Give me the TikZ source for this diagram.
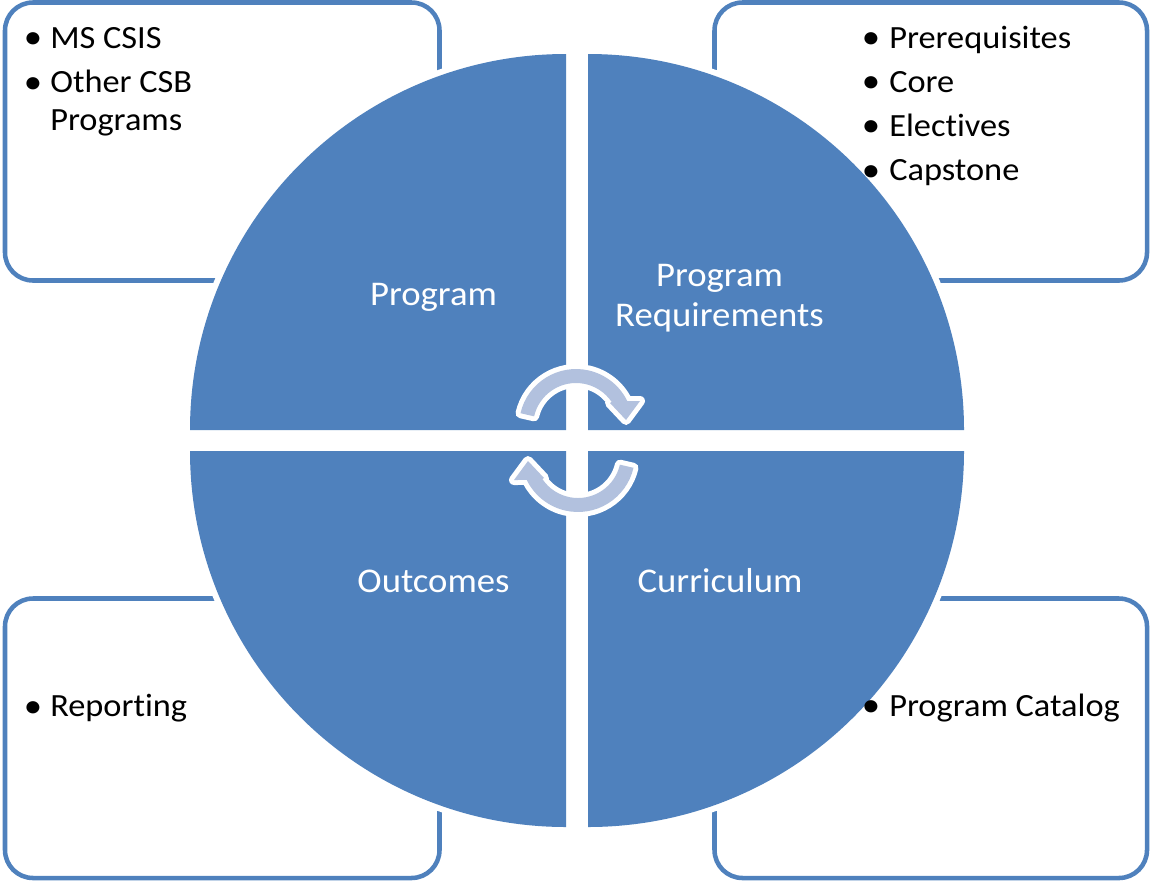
\documentclass[tikz,border=0pt]{standalone}
\usepackage{fontspec}
\setmainfont{Carlito}[FakeStretch=1.06, Ligatures=NoCommon]
\definecolor{qblue}{RGB}{79,129,189}
\definecolor{arrowfill}{RGB}{178,193,222}
\begin{document}
\begin{tikzpicture}[x=0.75pt,y=-0.75pt,
  box/.style={draw=qblue, line width=3.4pt, rounded corners=21pt},
  quad/.style={fill=qblue, preaction={draw=white, line width=9pt}},
  cyc/.style={fill=arrowfill, preaction={draw=white, line width=7.5pt, line join=round}},
  itemtxt/.style={anchor=base west, inner sep=0pt, font=\fontsize{24.3}{28}\selectfont, text=black},
  bul/.style={anchor=base, inner sep=0pt, font=\fontsize{26}{28}\selectfont, text=black},
  lbl/.style={anchor=base, inner sep=0pt, font=\fontsize{26}{30}\selectfont, text=white}]
\useasboundingbox (0,0) rectangle (1151,882);
% boxes
\draw[box] (5,2.5) rectangle (439.5,280.5);
\draw[box] (714.5,2.5) rectangle (1147,280.5);
\draw[box] (5,598.5) rectangle (439.5,878);
\draw[box] (714.5,598.5) rectangle (1147,878);
% quadrants
\path[quad] (566,430) -- (190,430) arc[start angle=180, end angle=270, radius=376] -- cycle;
\path[quad] (588,430) -- (588,54) arc[start angle=270, end angle=360, radius=376] -- cycle;
\path[quad] (588,451) -- (964,451) arc[start angle=0, end angle=90, radius=376] -- cycle;
\path[quad] (566,451) -- (566,827) arc[start angle=90, end angle=180, radius=376] -- cycle;
% box texts
\node[bul] (b1) at (33,48.5) {\textbullet};
\node[itemtxt] (t1) at (50,48) {MS CSIS};
\node[bul] (b2) at (33,93) {\textbullet};
\node[itemtxt] (t2) at (50,92.5) {Other CSB};
\node[itemtxt] (t2b) at (50,130) {Programs};
\node[bul] (b3) at (871,48.5) {\textbullet};
\node[itemtxt] (t3) at (889,48) {Prerequisites};
\node[bul] (b4) at (871,92.5) {\textbullet};
\node[itemtxt] (t4) at (889,92) {Core};
\node[bul] (b5) at (871,136.5) {\textbullet};
\node[itemtxt] (t5) at (889,136) {Electives};
\node[bul] (b6) at (871,181) {\textbullet};
\node[itemtxt] (t6) at (889,180.5) {Capstone};
\node[bul] (b7) at (33,717) {\textbullet};
\node[itemtxt] (t7) at (50,716.5) {Reporting};
\node[bul] (b8) at (871,716.5) {\textbullet};
\node[itemtxt] (t8) at (889,716) {Program Catalog};
% quadrant labels
\node[lbl] (lprog) at (433.5,305) {Program};
\node[lbl] (lreq1) at (719.5,286.7) {Program};
\node[lbl] (lreq2) at (719.5,326) {Requirements};
\node[lbl] (lout) at (433.5,592) {Outcomes};
\node[lbl] (lcur) at (720,592) {Curriculum};
% cycle arrows
\path[cyc] (520.5,413.2) arc[start angle=-167, end angle=-26, radius=57]
  -- (640,401) -- (626,420) -- (610,403) -- (611.65,401.95)
  arc[start angle=-34, end angle=-167, radius=43] -- cycle;
\begin{scope}[rotate around={180:(577,440.5)}]
\path[cyc] (520.5,413.2) arc[start angle=-167, end angle=-26, radius=57]
  -- (640,401) -- (626,420) -- (610,403) -- (611.65,401.95)
  arc[start angle=-34, end angle=-167, radius=43] -- cycle;
\end{scope}
\end{tikzpicture}
\end{document}
